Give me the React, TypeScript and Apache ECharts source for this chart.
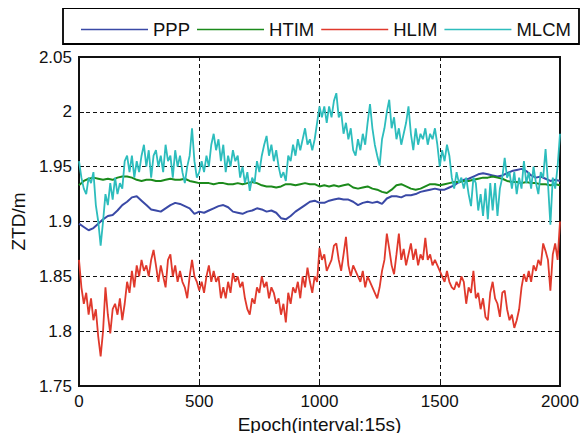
import React, { useEffect, useRef } from "react";
import * as echarts from "echarts";

// Epoch grid: noisy series read every 10 epochs, smooth series every 20 epochs
const NOISY_STEP = 10;
const SMOOTH_STEP = 20;
const X_TICKS = [0, 500, 1000, 1500, 2000];
const Y_TICKS = [1.75, 1.8, 1.85, 1.9, 1.95, 2, 2.05];
const SERIES_NAMES = ["PPP", "HTIM", "HLIM", "MLCM"];

const PPP = [
  1.898, 1.895, 1.892, 1.894, 1.898, 1.902, 1.905, 1.906, 1.91, 1.915,
  1.918, 1.922, 1.923, 1.919, 1.915, 1.911, 1.91, 1.909, 1.912, 1.915,
  1.917, 1.916, 1.914, 1.912, 1.907, 1.909,
  1.908, 1.91, 1.912, 1.914, 1.915, 1.913, 1.909, 1.908, 1.907, 1.909,
  1.91, 1.912, 1.911, 1.909, 1.91, 1.908, 1.903, 1.902, 1.905, 1.909,
  1.912, 1.915, 1.918, 1.919, 1.917,
  1.917, 1.919, 1.92, 1.921, 1.92, 1.92, 1.918, 1.915, 1.917, 1.918,
  1.917, 1.918, 1.916, 1.921, 1.923, 1.923, 1.922, 1.924, 1.924, 1.925,
  1.927, 1.928, 1.929, 1.93, 1.929,
  1.929, 1.931, 1.933, 1.936, 1.938, 1.939, 1.941, 1.943, 1.944, 1.943,
  1.942, 1.941, 1.942, 1.944, 1.946, 1.947, 1.948, 1.946, 1.942, 1.94,
  1.941, 1.939, 1.937, 1.938, 1.937,
];

const HTIM = [
  1.933, 1.937, 1.939, 1.94, 1.939, 1.938, 1.939, 1.938, 1.94, 1.941,
  1.941, 1.94, 1.938, 1.937, 1.938, 1.938, 1.937, 1.937, 1.938, 1.939,
  1.938, 1.938, 1.939, 1.937, 1.936, 1.935,
  1.935, 1.935, 1.934, 1.935, 1.935, 1.934, 1.934, 1.935, 1.934, 1.935,
  1.936, 1.935, 1.933, 1.932, 1.932, 1.931, 1.932, 1.934, 1.934, 1.933,
  1.934, 1.935, 1.934, 1.934, 1.932,
  1.933, 1.932, 1.933, 1.932, 1.933, 1.934, 1.931, 1.93, 1.931, 1.932,
  1.93, 1.929, 1.927, 1.926, 1.929, 1.933, 1.934, 1.932, 1.93, 1.929,
  1.93, 1.932, 1.934, 1.934, 1.933,
  1.934, 1.935, 1.936, 1.936, 1.937, 1.937, 1.938, 1.939, 1.94, 1.94,
  1.941, 1.94, 1.939, 1.937, 1.936, 1.936, 1.935, 1.936, 1.935, 1.935,
  1.934, 1.934, 1.933, 1.934, 1.933,
];

const HLIM = [
  1.865, 1.84, 1.825, 1.835, 1.815, 1.83, 1.81, 1.82, 1.795, 1.777,
  1.8, 1.84, 1.815, 1.798, 1.82, 1.825, 1.815, 1.83, 1.81, 1.825,
  1.845, 1.835, 1.855, 1.84, 1.86, 1.85, 1.865, 1.855, 1.86, 1.85,
  1.865, 1.874, 1.86, 1.845, 1.86, 1.85, 1.84, 1.865, 1.87, 1.85,
  1.86, 1.845, 1.855, 1.845, 1.84, 1.83, 1.85, 1.865, 1.85, 1.845,
  1.837,
  1.845, 1.835, 1.85, 1.86, 1.845, 1.855, 1.845, 1.85, 1.83, 1.84,
  1.83, 1.845, 1.835, 1.853, 1.845, 1.85, 1.84, 1.845, 1.83, 1.82,
  1.815, 1.83, 1.825, 1.84, 1.835, 1.85, 1.84, 1.845, 1.83, 1.84,
  1.835, 1.825, 1.83, 1.815, 1.825, 1.808, 1.835, 1.825, 1.84, 1.835,
  1.845, 1.83, 1.85, 1.84, 1.858, 1.845, 1.835, 1.85, 1.845, 1.876,
  1.865, 1.87, 1.855, 1.86, 1.865, 1.878, 1.88, 1.865, 1.855, 1.87,
  1.886, 1.86, 1.85, 1.86, 1.855, 1.85, 1.845, 1.855, 1.84, 1.85,
  1.845, 1.84, 1.835, 1.83, 1.84, 1.855, 1.865, 1.889, 1.875, 1.86,
  1.852, 1.87, 1.889, 1.865, 1.875, 1.86, 1.87, 1.88, 1.865, 1.875,
  1.86, 1.87, 1.865, 1.885, 1.865, 1.87, 1.86, 1.865, 1.86, 1.855,
  1.85, 1.845, 1.855, 1.845, 1.84, 1.838, 1.845, 1.84, 1.85, 1.845,
  1.825, 1.84, 1.835, 1.855, 1.83, 1.835, 1.82, 1.83, 1.813, 1.81,
  1.835, 1.845, 1.83, 1.825, 1.813, 1.835, 1.837, 1.82, 1.81, 1.815,
  1.803, 1.81, 1.82, 1.84, 1.852, 1.845, 1.855, 1.845, 1.86, 1.855,
  1.865, 1.86, 1.88, 1.873, 1.865, 1.837, 1.87, 1.88, 1.865, 1.9,
];

const MLCM = [
  1.955, 1.94, 1.93, 1.925, 1.94, 1.935, 1.945, 1.915, 1.9, 1.878,
  1.9, 1.925, 1.915, 1.935, 1.92, 1.94, 1.925, 1.935, 1.93, 1.955,
  1.96, 1.945, 1.96, 1.94, 1.955, 1.945, 1.96, 1.97, 1.95, 1.965,
  1.94, 1.96, 1.965, 1.95, 1.96, 1.945, 1.97, 1.955, 1.96, 1.94,
  1.965, 1.95, 1.96, 1.945, 1.935, 1.95, 1.96, 1.985, 1.955, 1.94,
  1.945,
  1.955, 1.945, 1.96, 1.95, 1.97, 1.98, 1.965, 1.975, 1.955, 1.97,
  1.945, 1.96, 1.95, 1.965, 1.955, 1.96, 1.94, 1.95, 1.935, 1.945,
  1.928, 1.94, 1.935, 1.955, 1.945, 1.96, 1.97, 1.978, 1.96, 1.97,
  1.955, 1.965, 1.95, 1.94, 1.945, 1.937, 1.96, 1.955, 1.97, 1.96,
  1.975, 1.965, 1.975, 1.985, 1.97, 1.975, 1.965, 1.975, 1.99, 2.005,
  1.995, 2.005, 1.99, 2.005, 1.995, 2.01, 2.017, 1.995, 2.0, 1.98,
  1.99, 1.975, 1.985, 1.965, 1.96, 1.975, 1.965, 1.98, 1.97, 1.99,
  2.007, 1.985, 1.97, 1.96, 1.951, 1.975, 1.985, 2.0, 2.011, 1.985,
  1.995, 1.975, 1.985, 1.97, 1.98, 1.99, 2.005, 1.98, 1.965, 1.985,
  1.97, 1.98, 1.975, 1.985, 1.97, 1.98, 1.975, 1.985, 1.97, 1.95,
  1.965, 1.955, 1.97, 1.96, 1.94, 1.93, 1.945, 1.935, 1.94, 1.93,
  1.94, 1.925, 1.914, 1.94, 1.935, 1.91, 1.925, 1.905, 1.93, 1.902,
  1.935, 1.91, 1.935, 1.905, 1.93, 1.94, 1.958, 1.94, 1.945, 1.93,
  1.945, 1.925, 1.94, 1.93, 1.955, 1.935, 1.945, 1.93, 1.95, 1.935,
  1.925, 1.945, 1.94, 1.966, 1.935, 1.897, 1.94, 1.93, 1.95, 1.98,
];

const COLORS = ["#3a49a6", "#1b8a1b", "#e0392c", "#2dbdbd"];
const FONT = "'Liberation Sans', Arial, Helvetica, sans-serif";

const toPairs = (vals: number[], step: number) => vals.map((v, i) => [i * step, v]);

export default function App() {
  const ref = useRef<HTMLDivElement>(null);
  useEffect(() => {
    if (!ref.current) return;
    const chart = echarts.init(ref.current, undefined, { renderer: "svg" });
    const seriesData = [
      toPairs(PPP, SMOOTH_STEP),
      toPairs(HTIM, SMOOTH_STEP),
      toPairs(HLIM, NOISY_STEP),
      toPairs(MLCM, NOISY_STEP),
    ];
    const widths = [2, 2, 1.8, 1.8];
    chart.setOption({
      animation: false,
      backgroundColor: "#fff",
      textStyle: { fontFamily: FONT },
      graphic: [
        {
          type: "rect",
          shape: { x: 63, y: 8, width: 516, height: 36 },
          style: { fill: "#fff", stroke: "#000", lineWidth: 1.8 },
          z: -1,
        },
      ],
      legend: {
        data: SERIES_NAMES.map((name, i) => ({
          name,
          icon: "rect",
          itemStyle: { color: COLORS[i], borderWidth: 0 },
        })),
        left: 76,
        top: 15,
        itemWidth: 67,
        itemHeight: 1.6,
        itemGap: 7,
        textStyle: { fontSize: 18.5, color: "#111", fontFamily: FONT },
      },
      grid: {
        left: 79,
        right: 28,
        top: 57,
        bottom: 55,
        show: true,
        borderColor: "#111",
        borderWidth: 2,
        backgroundColor: "#fff",
      },
      xAxis: {
        type: "value",
        min: X_TICKS[0],
        max: X_TICKS[X_TICKS.length - 1],
        interval: 500,
        name: "Epoch(interval:15s)",
        nameLocation: "middle",
        nameGap: 27,
        nameTextStyle: { fontSize: 19, color: "#111", fontFamily: FONT },
        axisLine: { show: true, lineStyle: { color: "#111", width: 2 } },
        axisTick: { show: true, inside: true, length: 5, lineStyle: { color: "#111" } },
        axisLabel: {
          fontSize: 17,
          color: "#111",
          margin: 7,
          fontFamily: FONT,
          formatter: (v: number) => String(v),
        },
        splitLine: { show: true, lineStyle: { color: "#111", type: [4, 3], width: 1 } },
      },
      yAxis: {
        type: "value",
        min: Y_TICKS[0],
        max: Y_TICKS[Y_TICKS.length - 1],
        interval: 0.05,
        name: "ZTD/m",
        nameLocation: "middle",
        nameRotate: 90,
        nameGap: 50,
        nameTextStyle: { fontSize: 19, color: "#111", fontFamily: FONT },
        axisLine: { show: true, lineStyle: { color: "#111", width: 2 } },
        axisTick: { show: true, inside: true, length: 5, lineStyle: { color: "#111" } },
        axisLabel: {
          fontSize: 17,
          color: "#111",
          margin: 7,
          fontFamily: FONT,
          formatter: (v: number) => String(Number(v.toFixed(2))),
        },
        splitLine: { show: true, lineStyle: { color: "#111", type: [4, 3], width: 1 } },
      },
      series: SERIES_NAMES.map((name, i) => ({
        name,
        type: "line",
        data: seriesData[i],
        symbol: "none",
        showSymbol: false,
        color: COLORS[i],
        lineStyle: { color: COLORS[i], width: widths[i] },
        z: 2 + i,
      })),
    });
    return () => chart.dispose();
  }, []);
  return <div ref={ref} style={{ width: 588, height: 441, margin: -8 }} />;
}
